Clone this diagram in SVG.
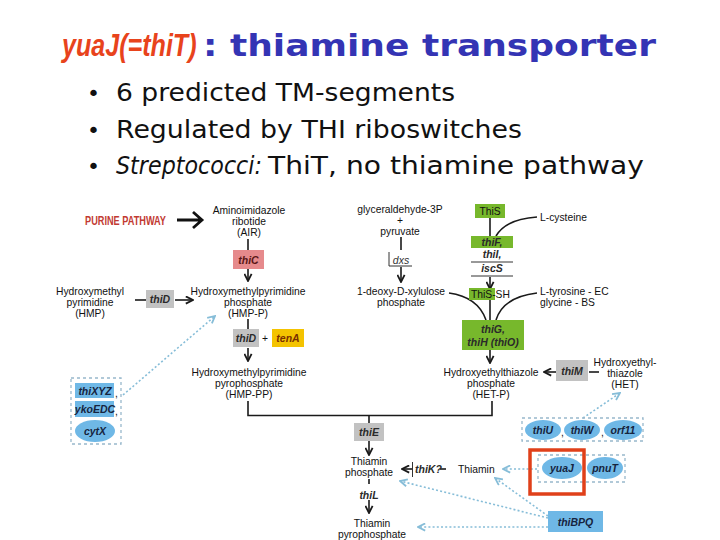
<svg xmlns="http://www.w3.org/2000/svg" width="720" height="540" viewBox="0 0 720 540">
<style>
.lb{font-family:"Liberation Sans",Arial,sans-serif;font-size:10.3px;fill:#111;text-anchor:middle}
.ll{font-family:"Liberation Sans",Arial,sans-serif;font-size:10.3px;fill:#111}
.gn{font-family:"Liberation Sans",Arial,sans-serif;font-size:10.5px;font-weight:bold;font-style:italic;fill:#2a2a2a;text-anchor:middle}
.bl{font-family:"Liberation Sans",Arial,sans-serif;font-size:10.5px;font-weight:bold;font-style:italic;fill:#16243e;text-anchor:middle}
.grey{fill:#c2c2c2}
.green{fill:#77b82c}
.blue{fill:#6fb8e6}
.ln{stroke:#1a1a1a;stroke-width:1.6;fill:none}
.dot{stroke:#86bdd8;stroke-width:1.6;fill:none;stroke-dasharray:2 2.2}
.dbox{stroke:#98b8cc;stroke-width:1.3;fill:none;stroke-dasharray:3 3}
.big{font-family:"DejaVu Sans",Verdana,sans-serif;fill:#111}
</style>
<defs>
<marker id="ah" viewBox="0 0 10 10" refX="9" refY="5" markerWidth="9" markerHeight="9" markerUnits="userSpaceOnUse" orient="auto">
<path d="M1,1 L9,5 L1,9" fill="none" stroke="#1a1a1a" stroke-width="2"/>
</marker>
<marker id="bh" viewBox="0 0 10 10" refX="9" refY="5" markerWidth="9" markerHeight="9" markerUnits="userSpaceOnUse" orient="auto">
<path d="M1,1 L9,5 L1,9" fill="none" stroke="#86bdd8" stroke-width="2"/>
</marker>
</defs>
<rect width="720" height="540" fill="#fff"/>

<g id="title">
<text transform="translate(62,56) scale(0.81,1)" x="0" y="0" style="font-family:'Liberation Sans',Arial,sans-serif;font-size:31px;font-weight:bold;font-style:italic;fill:#e8431c">yuaJ(=thiT)</text>
<text x="203" y="56" textLength="453" lengthAdjust="spacingAndGlyphs" style="font-family:'DejaVu Sans',Verdana,sans-serif;font-size:30px;font-weight:bold;fill:#3434b4">: thiamine transporter</text>
</g>

<g id="bullets">
<text x="87" y="101" class="big" style="font-size:22px">•</text>
<text x="116" y="101" class="big" style="font-size:25px" textLength="339" lengthAdjust="spacingAndGlyphs">6 predicted TM-segments</text>
<text x="87" y="138" class="big" style="font-size:22px">•</text>
<text x="116" y="138" class="big" style="font-size:25px" textLength="406" lengthAdjust="spacingAndGlyphs">Regulated by THI riboswitches</text>
<text x="87" y="174" class="big" style="font-size:22px">•</text>
<text y="174" class="big" style="font-size:25px"><tspan x="116" textLength="146" lengthAdjust="spacingAndGlyphs" style="font-style:italic">Streptococci:</tspan><tspan x="268" textLength="376" lengthAdjust="spacingAndGlyphs">ThiT, no thiamine pathway</tspan></text>
</g>

<g id="connectors">
<path d="M177,220 H201 M193,212 L202,220 L193,228" stroke="#111" stroke-width="2.8" fill="none"/>
<line class="ln" x1="248" y1="239" x2="248" y2="250"/>
<line class="ln" x1="248" y1="269" x2="248" y2="281" marker-end="url(#ah)"/>
<line class="ln" x1="135" y1="300" x2="146" y2="300"/>
<line class="ln" x1="175" y1="300" x2="193" y2="300" marker-end="url(#ah)"/>
<line class="ln" x1="248" y1="319" x2="248" y2="329"/>
<line class="ln" x1="248" y1="348" x2="248" y2="361" marker-end="url(#ah)"/>
<path class="ln" d="M248,401 V415.5 H492 V401"/>
<line class="ln" x1="369" y1="415" x2="369" y2="423"/>
<line class="ln" x1="369" y1="441" x2="369" y2="455" marker-end="url(#ah)"/>
<line class="ln" x1="369" y1="479" x2="369" y2="484" stroke-width="1.2"/>
<line class="ln" x1="369" y1="500" x2="369" y2="513" marker-end="url(#ah)"/>
<line class="ln" x1="401" y1="237" x2="401" y2="250"/>
<path d="M389,252 V266 H412" stroke="#333" stroke-width="1" fill="none"/>
<line class="ln" x1="401" y1="267" x2="401" y2="282" marker-end="url(#ah)"/>
<path class="ln" d="M449,293 Q478,297 486,320"/>
<path class="ln" d="M537,293 Q503,297 496,320"/>
<line class="ln" x1="490" y1="218" x2="490" y2="236"/>
<path class="ln" d="M537,217 Q506,219 496,236"/>
<line class="ln" x1="490" y1="277" x2="490" y2="289" marker-end="url(#ah)"/>
<line class="ln" x1="490" y1="300" x2="490" y2="320"/>
<line class="ln" x1="490" y1="350" x2="490" y2="363" marker-end="url(#ah)"/>
<line class="ln" x1="556" y1="372" x2="544" y2="372" marker-end="url(#ah)"/>
<line class="ln" x1="589" y1="372" x2="599" y2="372"/>
<line class="ln" x1="412" y1="469" x2="402" y2="469" marker-end="url(#ah)"/>
<line x1="412.5" y1="462" x2="412.5" y2="477" stroke="#333" stroke-width="1"/>
<line class="ln" x1="440" y1="469" x2="446" y2="469"/>
<line class="dot" x1="537" y1="469" x2="503" y2="469" marker-end="url(#bh)"/>
<line class="dot" x1="548" y1="516" x2="495" y2="478" marker-end="url(#bh)"/>
<line class="dot" x1="548" y1="518" x2="400" y2="481" marker-end="url(#bh)"/>
<line class="dot" x1="548" y1="527" x2="418" y2="527" marker-end="url(#bh)"/>
<line class="dot" x1="123" y1="395" x2="215" y2="316" marker-end="url(#bh)"/>
<line class="dot" x1="583" y1="418" x2="620" y2="393" marker-end="url(#bh)"/>
</g>

<g id="purine"><text x="85" y="224.5" textLength="81" lengthAdjust="spacingAndGlyphs" style="font-family:'Liberation Sans',Arial,sans-serif;font-size:12.5px;font-weight:bold;fill:#c23a32">PURINE PATHWAY</text></g>
<g id="air"><text class="lb"><tspan x="249" y="214">Aminoimidazole</tspan><tspan x="249" y="225">ribotide</tspan><tspan x="249" y="236">(AIR)</tspan></text></g>
<g id="thiC"><rect x="233" y="250" width="31" height="19" fill="#e68a8c"/><text class="gn" x="248.5" y="263.5" style="fill:#5a1616">thiC</text></g>
<g id="hmpp"><text class="lb"><tspan x="248" y="294.5">Hydroxymethylpyrimidine</tspan><tspan x="248" y="305.5">phosphate</tspan><tspan x="248" y="316.5">(HMP-P)</tspan></text></g>
<g id="hmp"><text class="lb"><tspan x="90" y="294.5">Hydroxymethyl</tspan><tspan x="90" y="305.5">pyrimidine</tspan><tspan x="90" y="316.5">(HMP)</tspan></text></g>
<g id="thiD1"><rect class="grey" x="146" y="290" width="28" height="18"/><text class="gn" x="160" y="303">thiD</text></g>
<g id="thiD2"><rect class="grey" x="233" y="329" width="26" height="18"/><text class="gn" x="246" y="342">thiD</text><text class="ll" x="262" y="342">+</text></g>
<g id="tenA"><rect x="272" y="329" width="32" height="18" fill="#f4c300"/><text class="gn" x="288" y="342" style="fill:#7a2e00">tenA</text></g>
<g id="hmppp"><text class="lb"><tspan x="249" y="375.5">Hydroxymethylpyrimidine</tspan><tspan x="249" y="386.5">pyrophosphate</tspan><tspan x="249" y="397.5">(HMP-PP)</tspan></text></g>
<g id="gly"><text class="lb"><tspan x="400" y="212.5">glyceraldehyde-3P</tspan><tspan x="400" y="223.5">+</tspan><tspan x="400" y="234.5">pyruvate</tspan></text></g>
<g id="dxs"><text class="gn" x="401" y="263.5" style="font-weight:normal;fill:#333">dxs</text></g>
<g id="dxp"><text class="lb"><tspan x="401" y="294.5">1-deoxy-D-xylulose</tspan><tspan x="401" y="305.5">phosphate</tspan></text></g>
<g id="thiS"><rect class="green" x="475" y="204" width="30" height="14"/><text class="lb" x="490" y="215">ThiS</text></g>
<g id="cys"><text class="ll" x="540" y="220.5">L-cysteine</text></g>
<g id="thiF"><rect class="green" x="471" y="236" width="42" height="12"/><text class="gn"><tspan x="492" y="246">thiF,</tspan><tspan x="492" y="258">thiI,</tspan><tspan x="492" y="272">iscS</tspan></text><line x1="471" y1="262" x2="513" y2="262" stroke="#333" stroke-width="1"/><line x1="471" y1="276" x2="513" y2="276" stroke="#333" stroke-width="1"/></g>
<g id="thiSSH"><rect class="green" x="469" y="288" width="26" height="12"/><text class="ll" x="471" y="298">ThiS-SH</text></g>
<g id="tyr"><text class="ll"><tspan x="540" y="295">L-tyrosine - EC</tspan><tspan x="540" y="306">glycine - BS</tspan></text></g>
<g id="thiG"><rect class="green" x="462" y="320" width="62" height="30"/><text class="gn"><tspan x="493" y="333">thiG,</tspan><tspan x="493" y="346">thiH (thiO)</tspan></text></g>
<g id="hetp"><text class="lb"><tspan x="491" y="375.5">Hydroxyethylthiazole</tspan><tspan x="491" y="386.5">phosphate</tspan><tspan x="491" y="397.5">(HET-P)</tspan></text></g>
<g id="thiM"><rect class="grey" x="556" y="360" width="32" height="21"/><text class="gn" x="572" y="375">thiM</text></g>
<g id="het"><text class="lb"><tspan x="625" y="365.5">Hydroxyethyl-</tspan><tspan x="625" y="376.5">thiazole</tspan><tspan x="625" y="387.5">(HET)</tspan></text></g>
<g id="leftbox"><rect class="dbox" x="71" y="378" width="50" height="66"/>
<rect class="blue" x="75" y="383" width="39" height="15"/><text class="bl" x="95" y="394.5">thiXYZ</text><text class="ll" x="115" y="397">,</text>
<rect class="blue" x="75" y="401" width="39" height="16"/><text class="bl" x="95" y="413">ykoEDC</text><text class="ll" x="115" y="415">,</text>
<ellipse class="blue" cx="95" cy="431" rx="20" ry="11"/><text class="bl" x="95" y="435">cytX</text></g>
<g id="thiE"><rect class="grey" x="354" y="423" width="30" height="18"/><text class="gn" x="369" y="436">thiE</text></g>
<g id="thp"><text class="lb"><tspan x="369" y="464.5">Thiamin</tspan><tspan x="369" y="475.5">phosphate</tspan></text></g>
<g id="thiL"><text class="gn" x="369" y="498.5">thiL</text></g>
<g id="tpp"><text class="lb"><tspan x="372" y="526.5">Thiamin</tspan><tspan x="372" y="538">pyrophosphate</tspan></text></g>
<g id="thiK"><text class="gn" x="415" y="473" style="text-anchor:start">thiK?</text></g>
<g id="thiamin"><text class="ll" x="458" y="472.5">Thiamin</text></g>
<g id="thiUgrp"><rect class="dbox" x="522" y="418" width="121" height="23"/>
<ellipse class="blue" cx="543" cy="430" rx="18" ry="10"/><text class="bl" x="543" y="434">thiU</text><text class="ll" x="561" y="436">,</text>
<ellipse class="blue" cx="582" cy="430" rx="18" ry="10"/><text class="bl" x="582" y="434">thiW</text><text class="ll" x="601" y="436">,</text>
<ellipse class="blue" cx="623" cy="430" rx="19" ry="10"/><text class="bl" x="623" y="434">orf11</text></g>
<g id="yuaJgrp"><rect class="dbox" x="538" y="455" width="87" height="27"/>
<ellipse class="blue" cx="562" cy="468" rx="20" ry="11"/><text class="bl" x="562" y="472">yuaJ</text>
<ellipse class="blue" cx="605" cy="468" rx="18" ry="11"/><text class="bl" x="605" y="472">pnuT</text>
<rect x="530" y="450" width="54" height="44" fill="none" stroke="#e0401a" stroke-width="3.5"/></g>
<g id="thiBPQ"><rect class="blue" x="548" y="511" width="55" height="21"/><text class="bl" x="575.5" y="525.5">thiBPQ</text></g>
</svg>
